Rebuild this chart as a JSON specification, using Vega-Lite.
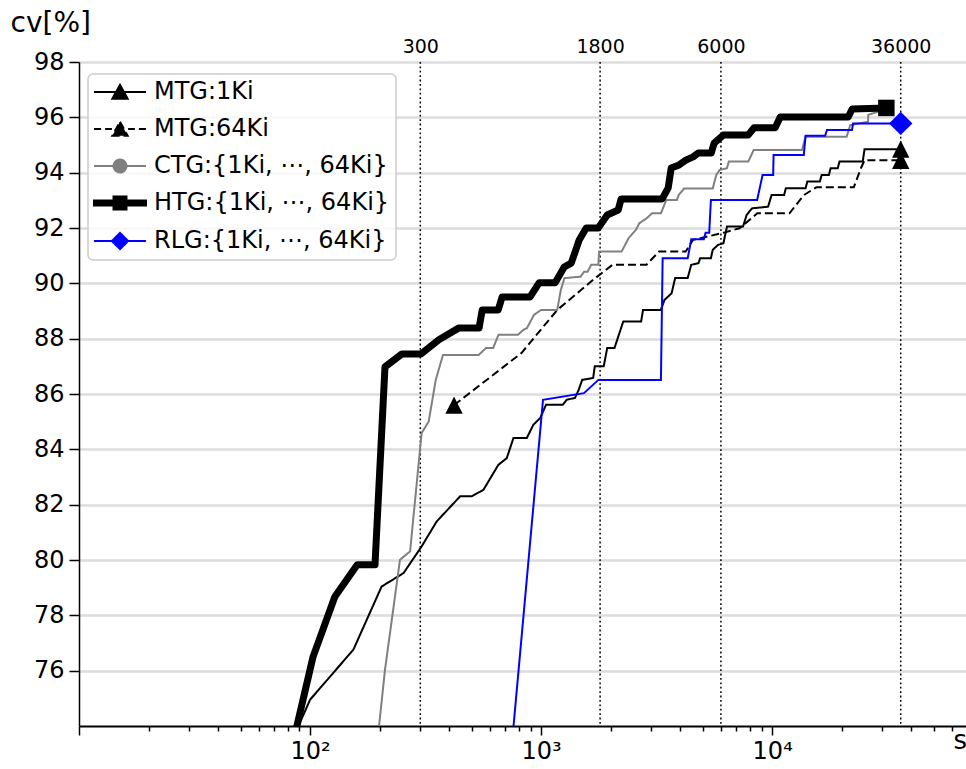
{
  "$schema": "https://vega.github.io/schema/vega-lite/v6.json",
  "width": 887,
  "height": 664,
  "autosize": {"type": "none"},
  "padding": {"left": 79, "top": 62, "right": 0, "bottom": 43},
  "background": "white",
  "config": {
    "view": {"stroke": null},
    "font": "DejaVu Sans",
    "axis": {"labelFont": "DejaVu Sans", "titleFont": "DejaVu Sans", "labelColor": "#000000", "titleColor": "#000000", "titleFontWeight": "normal"},
    "legend": {"labelFont": "DejaVu Sans"}
  },
  "datasets": {
    "rules": [{"t": 300}, {"t": 1800}, {"t": 6000}, {"t": 36000}],
    "marks": [
      {"series": "MTG:1Ki", "t": 36000, "cv": 94.85},
      {"series": "MTG:64Ki", "t": 420, "cv": 85.6},
      {"series": "MTG:64Ki", "t": 36000, "cv": 94.45},
      {"series": "CTG:{1Ki, ⋯, 64Ki}", "t": 31200, "cv": 96.3},
      {"series": "HTG:{1Ki, ⋯, 64Ki}", "t": 31200, "cv": 96.34},
      {"series": "RLG:{1Ki, ⋯, 64Ki}", "t": 36000, "cv": 95.78}
    ],
    "lines": [
      {"series": "MTG:1Ki", "t": 87, "cv": 73.8},
      {"series": "MTG:1Ki", "t": 100, "cv": 74.95},
      {"series": "MTG:1Ki", "t": 154, "cv": 76.76},
      {"series": "MTG:1Ki", "t": 204, "cv": 79.04},
      {"series": "MTG:1Ki", "t": 254, "cv": 79.53},
      {"series": "MTG:1Ki", "t": 304, "cv": 80.49},
      {"series": "MTG:1Ki", "t": 353, "cv": 81.39},
      {"series": "MTG:1Ki", "t": 446, "cv": 82.3},
      {"series": "MTG:1Ki", "t": 501, "cv": 82.3},
      {"series": "MTG:1Ki", "t": 563, "cv": 82.54},
      {"series": "MTG:1Ki", "t": 653, "cv": 83.44},
      {"series": "MTG:1Ki", "t": 710, "cv": 83.68},
      {"series": "MTG:1Ki", "t": 759, "cv": 84.41},
      {"series": "MTG:1Ki", "t": 867, "cv": 84.41},
      {"series": "MTG:1Ki", "t": 926, "cv": 84.89},
      {"series": "MTG:1Ki", "t": 991, "cv": 85.13},
      {"series": "MTG:1Ki", "t": 1050, "cv": 85.61},
      {"series": "MTG:1Ki", "t": 1240, "cv": 85.61},
      {"series": "MTG:1Ki", "t": 1290, "cv": 85.79},
      {"series": "MTG:1Ki", "t": 1402, "cv": 85.86},
      {"series": "MTG:1Ki", "t": 1454, "cv": 86.15},
      {"series": "MTG:1Ki", "t": 1506, "cv": 86.51},
      {"series": "MTG:1Ki", "t": 1680, "cv": 86.58},
      {"series": "MTG:1Ki", "t": 1707, "cv": 87.0},
      {"series": "MTG:1Ki", "t": 1866, "cv": 87.0},
      {"series": "MTG:1Ki", "t": 1932, "cv": 87.66},
      {"series": "MTG:1Ki", "t": 2077, "cv": 87.66},
      {"series": "MTG:1Ki", "t": 2267, "cv": 88.62},
      {"series": "MTG:1Ki", "t": 2709, "cv": 88.62},
      {"series": "MTG:1Ki", "t": 2761, "cv": 89.04},
      {"series": "MTG:1Ki", "t": 3297, "cv": 89.04},
      {"series": "MTG:1Ki", "t": 3419, "cv": 89.4},
      {"series": "MTG:1Ki", "t": 3670, "cv": 89.64},
      {"series": "MTG:1Ki", "t": 3803, "cv": 90.19},
      {"series": "MTG:1Ki", "t": 4308, "cv": 90.19},
      {"series": "MTG:1Ki", "t": 4463, "cv": 90.67},
      {"series": "MTG:1Ki", "t": 4797, "cv": 90.73},
      {"series": "MTG:1Ki", "t": 4880, "cv": 90.91},
      {"series": "MTG:1Ki", "t": 5430, "cv": 90.91},
      {"series": "MTG:1Ki", "t": 5530, "cv": 91.21},
      {"series": "MTG:1Ki", "t": 5830, "cv": 91.39},
      {"series": "MTG:1Ki", "t": 6150, "cv": 91.45},
      {"series": "MTG:1Ki", "t": 6375, "cv": 92.05},
      {"series": "MTG:1Ki", "t": 7480, "cv": 92.05},
      {"series": "MTG:1Ki", "t": 7750, "cv": 92.47},
      {"series": "MTG:1Ki", "t": 8180, "cv": 92.71},
      {"series": "MTG:1Ki", "t": 9600, "cv": 92.77},
      {"series": "MTG:1Ki", "t": 9940, "cv": 93.19},
      {"series": "MTG:1Ki", "t": 11260, "cv": 93.19},
      {"series": "MTG:1Ki", "t": 11460, "cv": 93.44},
      {"series": "MTG:1Ki", "t": 13950, "cv": 93.44},
      {"series": "MTG:1Ki", "t": 14200, "cv": 93.68},
      {"series": "MTG:1Ki", "t": 16080, "cv": 93.68},
      {"series": "MTG:1Ki", "t": 16380, "cv": 93.92},
      {"series": "MTG:1Ki", "t": 17590, "cv": 93.92},
      {"series": "MTG:1Ki", "t": 17910, "cv": 94.16},
      {"series": "MTG:1Ki", "t": 19220, "cv": 94.16},
      {"series": "MTG:1Ki", "t": 19560, "cv": 94.4},
      {"series": "MTG:1Ki", "t": 24660, "cv": 94.4},
      {"series": "MTG:1Ki", "t": 25100, "cv": 94.85},
      {"series": "MTG:1Ki", "t": 36000, "cv": 94.85},
      {"series": "MTG:64Ki", "t": 420, "cv": 85.6},
      {"series": "MTG:64Ki", "t": 822, "cv": 87.48},
      {"series": "MTG:64Ki", "t": 1175, "cv": 89.04},
      {"series": "MTG:64Ki", "t": 1675, "cv": 90.12},
      {"series": "MTG:64Ki", "t": 2037, "cv": 90.67},
      {"series": "MTG:64Ki", "t": 2858, "cv": 90.67},
      {"series": "MTG:64Ki", "t": 3238, "cv": 91.15},
      {"series": "MTG:64Ki", "t": 4226, "cv": 91.15},
      {"series": "MTG:64Ki", "t": 4540, "cv": 91.57},
      {"series": "MTG:64Ki", "t": 6040, "cv": 91.81},
      {"series": "MTG:64Ki", "t": 7220, "cv": 91.99},
      {"series": "MTG:64Ki", "t": 8620, "cv": 92.53},
      {"series": "MTG:64Ki", "t": 11880, "cv": 92.53},
      {"series": "MTG:64Ki", "t": 13710, "cv": 93.19},
      {"series": "MTG:64Ki", "t": 15530, "cv": 93.47},
      {"series": "MTG:64Ki", "t": 22550, "cv": 93.47},
      {"series": "MTG:64Ki", "t": 24210, "cv": 94.16},
      {"series": "MTG:64Ki", "t": 25100, "cv": 94.45},
      {"series": "MTG:64Ki", "t": 36000, "cv": 94.45},
      {"series": "CTG:{1Ki, ⋯, 64Ki}", "t": 196, "cv": 73.5},
      {"series": "CTG:{1Ki, ⋯, 64Ki}", "t": 211, "cv": 76.03},
      {"series": "CTG:{1Ki, ⋯, 64Ki}", "t": 245, "cv": 80.01},
      {"series": "CTG:{1Ki, ⋯, 64Ki}", "t": 271, "cv": 80.31},
      {"series": "CTG:{1Ki, ⋯, 64Ki}", "t": 304, "cv": 84.59},
      {"series": "CTG:{1Ki, ⋯, 64Ki}", "t": 326, "cv": 85.0},
      {"series": "CTG:{1Ki, ⋯, 64Ki}", "t": 350, "cv": 86.51},
      {"series": "CTG:{1Ki, ⋯, 64Ki}", "t": 376, "cv": 87.41},
      {"series": "CTG:{1Ki, ⋯, 64Ki}", "t": 537, "cv": 87.41},
      {"series": "CTG:{1Ki, ⋯, 64Ki}", "t": 577, "cv": 87.66},
      {"series": "CTG:{1Ki, ⋯, 64Ki}", "t": 620, "cv": 87.66},
      {"series": "CTG:{1Ki, ⋯, 64Ki}", "t": 654, "cv": 88.14},
      {"series": "CTG:{1Ki, ⋯, 64Ki}", "t": 794, "cv": 88.14},
      {"series": "CTG:{1Ki, ⋯, 64Ki}", "t": 838, "cv": 88.32},
      {"series": "CTG:{1Ki, ⋯, 64Ki}", "t": 868, "cv": 88.38},
      {"series": "CTG:{1Ki, ⋯, 64Ki}", "t": 931, "cv": 88.86},
      {"series": "CTG:{1Ki, ⋯, 64Ki}", "t": 1000, "cv": 89.04},
      {"series": "CTG:{1Ki, ⋯, 64Ki}", "t": 1174, "cv": 89.04},
      {"series": "CTG:{1Ki, ⋯, 64Ki}", "t": 1217, "cv": 89.76},
      {"series": "CTG:{1Ki, ⋯, 64Ki}", "t": 1262, "cv": 90.19},
      {"series": "CTG:{1Ki, ⋯, 64Ki}", "t": 1482, "cv": 90.24},
      {"series": "CTG:{1Ki, ⋯, 64Ki}", "t": 1535, "cv": 90.42},
      {"series": "CTG:{1Ki, ⋯, 64Ki}", "t": 1590, "cv": 90.42},
      {"series": "CTG:{1Ki, ⋯, 64Ki}", "t": 1647, "cv": 90.67},
      {"series": "CTG:{1Ki, ⋯, 64Ki}", "t": 1769, "cv": 90.67},
      {"series": "CTG:{1Ki, ⋯, 64Ki}", "t": 1782, "cv": 91.15},
      {"series": "CTG:{1Ki, ⋯, 64Ki}", "t": 2229, "cv": 91.15},
      {"series": "CTG:{1Ki, ⋯, 64Ki}", "t": 2310, "cv": 91.39},
      {"series": "CTG:{1Ki, ⋯, 64Ki}", "t": 2390, "cv": 91.63},
      {"series": "CTG:{1Ki, ⋯, 64Ki}", "t": 2570, "cv": 91.93},
      {"series": "CTG:{1Ki, ⋯, 64Ki}", "t": 2660, "cv": 92.17},
      {"series": "CTG:{1Ki, ⋯, 64Ki}", "t": 2860, "cv": 92.35},
      {"series": "CTG:{1Ki, ⋯, 64Ki}", "t": 3020, "cv": 92.53},
      {"series": "CTG:{1Ki, ⋯, 64Ki}", "t": 3300, "cv": 92.53},
      {"series": "CTG:{1Ki, ⋯, 64Ki}", "t": 3480, "cv": 93.01},
      {"series": "CTG:{1Ki, ⋯, 64Ki}", "t": 3870, "cv": 93.01},
      {"series": "CTG:{1Ki, ⋯, 64Ki}", "t": 3940, "cv": 93.19},
      {"series": "CTG:{1Ki, ⋯, 64Ki}", "t": 4155, "cv": 93.43},
      {"series": "CTG:{1Ki, ⋯, 64Ki}", "t": 5530, "cv": 93.43},
      {"series": "CTG:{1Ki, ⋯, 64Ki}", "t": 5730, "cv": 93.92},
      {"series": "CTG:{1Ki, ⋯, 64Ki}", "t": 5930, "cv": 94.1},
      {"series": "CTG:{1Ki, ⋯, 64Ki}", "t": 6370, "cv": 94.16},
      {"series": "CTG:{1Ki, ⋯, 64Ki}", "t": 6490, "cv": 94.4},
      {"series": "CTG:{1Ki, ⋯, 64Ki}", "t": 7880, "cv": 94.4},
      {"series": "CTG:{1Ki, ⋯, 64Ki}", "t": 8320, "cv": 94.82},
      {"series": "CTG:{1Ki, ⋯, 64Ki}", "t": 13460, "cv": 94.82},
      {"series": "CTG:{1Ki, ⋯, 64Ki}", "t": 13950, "cv": 95.3},
      {"series": "CTG:{1Ki, ⋯, 64Ki}", "t": 21000, "cv": 95.3},
      {"series": "CTG:{1Ki, ⋯, 64Ki}", "t": 21770, "cv": 95.72},
      {"series": "CTG:{1Ki, ⋯, 64Ki}", "t": 26000, "cv": 95.84},
      {"series": "CTG:{1Ki, ⋯, 64Ki}", "t": 26050, "cv": 96.09},
      {"series": "CTG:{1Ki, ⋯, 64Ki}", "t": 31200, "cv": 96.3},
      {"series": "HTG:{1Ki, ⋯, 64Ki}", "t": 84.4, "cv": 73.4},
      {"series": "HTG:{1Ki, ⋯, 64Ki}", "t": 103, "cv": 76.5},
      {"series": "HTG:{1Ki, ⋯, 64Ki}", "t": 128, "cv": 78.67},
      {"series": "HTG:{1Ki, ⋯, 64Ki}", "t": 160, "cv": 79.83},
      {"series": "HTG:{1Ki, ⋯, 64Ki}", "t": 191, "cv": 79.83},
      {"series": "HTG:{1Ki, ⋯, 64Ki}", "t": 211, "cv": 86.98},
      {"series": "HTG:{1Ki, ⋯, 64Ki}", "t": 250, "cv": 87.45},
      {"series": "HTG:{1Ki, ⋯, 64Ki}", "t": 302, "cv": 87.45},
      {"series": "HTG:{1Ki, ⋯, 64Ki}", "t": 361, "cv": 87.96},
      {"series": "HTG:{1Ki, ⋯, 64Ki}", "t": 441, "cv": 88.39},
      {"series": "HTG:{1Ki, ⋯, 64Ki}", "t": 539, "cv": 88.39},
      {"series": "HTG:{1Ki, ⋯, 64Ki}", "t": 556, "cv": 89.04},
      {"series": "HTG:{1Ki, ⋯, 64Ki}", "t": 652, "cv": 89.04},
      {"series": "HTG:{1Ki, ⋯, 64Ki}", "t": 678, "cv": 89.51},
      {"series": "HTG:{1Ki, ⋯, 64Ki}", "t": 896, "cv": 89.51},
      {"series": "HTG:{1Ki, ⋯, 64Ki}", "t": 980, "cv": 90.02},
      {"series": "HTG:{1Ki, ⋯, 64Ki}", "t": 1150, "cv": 90.02},
      {"series": "HTG:{1Ki, ⋯, 64Ki}", "t": 1259, "cv": 90.59},
      {"series": "HTG:{1Ki, ⋯, 64Ki}", "t": 1350, "cv": 90.73},
      {"series": "HTG:{1Ki, ⋯, 64Ki}", "t": 1462, "cv": 91.57},
      {"series": "HTG:{1Ki, ⋯, 64Ki}", "t": 1567, "cv": 92.0},
      {"series": "HTG:{1Ki, ⋯, 64Ki}", "t": 1767, "cv": 92.0},
      {"series": "HTG:{1Ki, ⋯, 64Ki}", "t": 1933, "cv": 92.47},
      {"series": "HTG:{1Ki, ⋯, 64Ki}", "t": 2155, "cv": 92.65},
      {"series": "HTG:{1Ki, ⋯, 64Ki}", "t": 2220, "cv": 93.05},
      {"series": "HTG:{1Ki, ⋯, 64Ki}", "t": 3340, "cv": 93.05},
      {"series": "HTG:{1Ki, ⋯, 64Ki}", "t": 3548, "cv": 93.45},
      {"series": "HTG:{1Ki, ⋯, 64Ki}", "t": 3656, "cv": 94.17},
      {"series": "HTG:{1Ki, ⋯, 64Ki}", "t": 3956, "cv": 94.28},
      {"series": "HTG:{1Ki, ⋯, 64Ki}", "t": 4245, "cv": 94.46},
      {"series": "HTG:{1Ki, ⋯, 64Ki}", "t": 4550, "cv": 94.57},
      {"series": "HTG:{1Ki, ⋯, 64Ki}", "t": 4786, "cv": 94.71},
      {"series": "HTG:{1Ki, ⋯, 64Ki}", "t": 5450, "cv": 94.71},
      {"series": "HTG:{1Ki, ⋯, 64Ki}", "t": 5610, "cv": 95.07},
      {"series": "HTG:{1Ki, ⋯, 64Ki}", "t": 6140, "cv": 95.36},
      {"series": "HTG:{1Ki, ⋯, 64Ki}", "t": 7870, "cv": 95.36},
      {"series": "HTG:{1Ki, ⋯, 64Ki}", "t": 8350, "cv": 95.62},
      {"series": "HTG:{1Ki, ⋯, 64Ki}", "t": 10300, "cv": 95.62},
      {"series": "HTG:{1Ki, ⋯, 64Ki}", "t": 10840, "cv": 96.01},
      {"series": "HTG:{1Ki, ⋯, 64Ki}", "t": 21340, "cv": 96.01},
      {"series": "HTG:{1Ki, ⋯, 64Ki}", "t": 22200, "cv": 96.3},
      {"series": "HTG:{1Ki, ⋯, 64Ki}", "t": 31200, "cv": 96.34},
      {"series": "RLG:{1Ki, ⋯, 64Ki}", "t": 741, "cv": 73.0},
      {"series": "RLG:{1Ki, ⋯, 64Ki}", "t": 1019, "cv": 85.79},
      {"series": "RLG:{1Ki, ⋯, 64Ki}", "t": 1533, "cv": 86.03},
      {"series": "RLG:{1Ki, ⋯, 64Ki}", "t": 1769, "cv": 86.51},
      {"series": "RLG:{1Ki, ⋯, 64Ki}", "t": 3300, "cv": 86.51},
      {"series": "RLG:{1Ki, ⋯, 64Ki}", "t": 3357, "cv": 90.91},
      {"series": "RLG:{1Ki, ⋯, 64Ki}", "t": 4310, "cv": 90.91},
      {"series": "RLG:{1Ki, ⋯, 64Ki}", "t": 4465, "cv": 91.59},
      {"series": "RLG:{1Ki, ⋯, 64Ki}", "t": 5060, "cv": 91.59},
      {"series": "RLG:{1Ki, ⋯, 64Ki}", "t": 5150, "cv": 91.83},
      {"series": "RLG:{1Ki, ⋯, 64Ki}", "t": 5340, "cv": 91.83},
      {"series": "RLG:{1Ki, ⋯, 64Ki}", "t": 5430, "cv": 93.01},
      {"series": "RLG:{1Ki, ⋯, 64Ki}", "t": 8610, "cv": 93.01},
      {"series": "RLG:{1Ki, ⋯, 64Ki}", "t": 9090, "cv": 93.92},
      {"series": "RLG:{1Ki, ⋯, 64Ki}", "t": 10100, "cv": 93.92},
      {"series": "RLG:{1Ki, ⋯, 64Ki}", "t": 10140, "cv": 94.64},
      {"series": "RLG:{1Ki, ⋯, 64Ki}", "t": 13700, "cv": 94.64},
      {"series": "RLG:{1Ki, ⋯, 64Ki}", "t": 13950, "cv": 95.33},
      {"series": "RLG:{1Ki, ⋯, 64Ki}", "t": 16950, "cv": 95.33},
      {"series": "RLG:{1Ki, ⋯, 64Ki}", "t": 17260, "cv": 95.54},
      {"series": "RLG:{1Ki, ⋯, 64Ki}", "t": 22150, "cv": 95.54},
      {"series": "RLG:{1Ki, ⋯, 64Ki}", "t": 22390, "cv": 95.78},
      {"series": "RLG:{1Ki, ⋯, 64Ki}", "t": 36000, "cv": 95.78}
    ]
  },
  "layer": [
    {
      "data": {"name": "rules"},
      "mark": {"type": "rule", "color": "#000000", "strokeWidth": 1.5, "strokeDash": [1.8, 2.6]},
      "encoding": {
        "x": {
          "field": "t", "type": "quantitative",
          "scale": {"type": "log", "domain": [10, 69000], "nice": false},
          "axis": {"orient": "top", "values": [300, 1800, 6000, 36000], "format": "d", "title": null, "domain": false, "ticks": false, "tickSize": 0, "grid": false, "labelFontSize": 19, "labelPadding": 6, "labelOverlap": false, "labelFlush": false, "labelBound": false}
        }
      }
    },
    {
      "data": {"name": "lines"},
      "transform": [{"filter": {"field": "series", "oneOf": ["MTG:1Ki", "MTG:64Ki", "CTG:{1Ki, ⋯, 64Ki}"]}}],
      "mark": {"type": "line", "clip": true, "strokeWidth": 2},
      "encoding": {
        "x": {
          "field": "t", "type": "quantitative",
          "scale": {"type": "log", "domain": [10, 69000], "nice": false},
          "axis": {
            "orient": "bottom",
            "values": [10, 20, 30, 40, 50, 60, 70, 80, 90, 100, 200, 300, 400, 500, 600, 700, 800, 900, 1000, 2000, 3000, 4000, 5000, 6000, 7000, 8000, 9000, 10000, 20000, 30000, 40000, 50000, 60000],
            "labelExpr": "datum.value == 100 ? '10²' : datum.value == 1000 ? '10³' : datum.value == 10000 ? '10⁴' : ''",
            "labelOverlap": false, "labelFlush": false, "labelBound": false,
            "labelFontSize": 24, "labelPadding": 4,
            "tickSize": {"condition": {"test": "datum.value == 10 || datum.value == 100 || datum.value == 1000 || datum.value == 10000", "value": 9}, "value": 5},
            "tickColor": "#000000", "tickWidth": 1.5,
            "domainColor": "#000000", "domainWidth": 2,
            "grid": false,
            "title": "s", "titleFontSize": 26, "titleAlign": "left", "titleBaseline": "alphabetic", "titleAngle": 0, "titleX": 874, "titleY": 22
          }
        },
        "y": {
          "field": "cv", "type": "quantitative",
          "scale": {"domain": [74, 98], "nice": false, "zero": false},
          "axis": {
            "values": [76, 78, 80, 82, 84, 86, 88, 90, 92, 94, 96, 98],
            "title": "cv[%]", "titleFontSize": 28, "titleAngle": 0, "titleAlign": "left", "titleBaseline": "alphabetic", "titleX": -69, "titleY": -31,
            "labelFontSize": 24, "labelPadding": 5,
            "tickSize": 10, "tickWidth": 1.5, "tickColor": "#000000",
            "domainColor": "#000000", "domainWidth": 1.5,
            "grid": true, "gridColor": "#dcdcdc", "gridWidth": 2.5
          }
        },
        "color": {
          "field": "series", "type": "nominal",
          "scale": {"domain": ["MTG:1Ki", "MTG:64Ki", "CTG:{1Ki, ⋯, 64Ki}", "HTG:{1Ki, ⋯, 64Ki}", "RLG:{1Ki, ⋯, 64Ki}"], "range": ["#000000", "#000000", "#808080", "#000000", "#0000ff"]},
          "legend": {
            "title": null, "orient": "none", "legendX": 9, "legendY": 12, "direction": "vertical",
            "padding": 6, "rowPadding": 13, "strokeColor": "#cccccc", "cornerRadius": 5, "fillColor": "rgba(255,255,255,0.8)",
            "labelFontSize": 24, "labelColor": "#000000", "labelLimit": 500, "labelFont": "DejaVu Sans",
            "symbolSize": 324, "symbolOffset": 14, "labelOffset": 22,
            "encode": {
              "legend": {"update": {"strokeWidth": {"value": 1.5}}},
              "symbols": {
                "update": {
                  "shape": {"signal": "datum.value === 'MTG:1Ki' ? 'M-2.89,0H2.89M0,-0.8L0.85,0.75L-0.85,0.75Z' : datum.value === 'MTG:64Ki' ? 'M-2.89,0H-2.1M-1.65,0H-0.9M0.9,0H1.65M2.1,0H2.89M0,-0.8L0.85,0.75L-0.85,0.75Z' : indexof(datum.value, 'CTG') === 0 ? 'M-2.89,0H2.89M-0.72,0A0.72,0.72,0,1,0,0.72,0A0.72,0.72,0,1,0,-0.72,0Z' : indexof(datum.value, 'HTG') === 0 ? 'M-2.89,-0.28H2.89V0.28H-2.89ZM-0.72,-0.72H0.72V0.72H-0.72Z' : 'M-2.89,0H2.89M0,-0.9L0.9,0L0,0.9L-0.9,0Z'"},
                  "fill": {"signal": "indexof(datum.value, 'CTG') === 0 ? '#808080' : indexof(datum.value, 'RLG') === 0 ? '#0000ff' : '#000000'"},
                  "stroke": {"signal": "indexof(datum.value, 'CTG') === 0 ? '#808080' : indexof(datum.value, 'RLG') === 0 ? '#0000ff' : '#000000'"},
                  "strokeWidth": {"value": 2},
                  "strokeDash": {"value": [1, 0]},
                  "size": {"value": 324},
                  "opacity": {"value": 1},
                  "fillOpacity": {"value": 1},
                  "strokeOpacity": {"value": 1}
                }
              }
            }
          }
        },
        "strokeDash": {
          "field": "series", "type": "nominal",
          "scale": {"domain": ["MTG:1Ki", "MTG:64Ki", "CTG:{1Ki, ⋯, 64Ki}", "HTG:{1Ki, ⋯, 64Ki}", "RLG:{1Ki, ⋯, 64Ki}"], "range": [[1, 0], [8, 4], [1, 0], [1, 0], [1, 0]]},
          "legend": null
        }
      }
    },
    {
      "data": {"name": "lines"},
      "transform": [{"filter": {"field": "series", "equal": "HTG:{1Ki, ⋯, 64Ki}"}}],
      "mark": {"type": "line", "clip": true, "strokeWidth": 7, "strokeJoin": "round"},
      "encoding": {
        "x": {"field": "t", "type": "quantitative", "scale": {"type": "log", "domain": [10, 69000], "nice": false}, "axis": null},
        "y": {"field": "cv", "type": "quantitative"},
        "color": {"field": "series", "type": "nominal"}
      }
    },
    {
      "data": {"name": "lines"},
      "transform": [{"filter": {"field": "series", "equal": "RLG:{1Ki, ⋯, 64Ki}"}}],
      "mark": {"type": "line", "clip": true, "strokeWidth": 2},
      "encoding": {
        "x": {"field": "t", "type": "quantitative", "scale": {"type": "log", "domain": [10, 69000], "nice": false}, "axis": null},
        "y": {"field": "cv", "type": "quantitative"},
        "color": {"field": "series", "type": "nominal"}
      }
    },
    {
      "data": {"name": "marks"},
      "transform": [{"filter": {"field": "series", "oneOf": ["MTG:1Ki", "MTG:64Ki"]}}],
      "mark": {"type": "point", "filled": true, "size": 300, "opacity": 1, "color": "#000000", "shape": "M0,-1L1,1L-1,1Z"},
      "encoding": {
        "x": {"field": "t", "type": "quantitative", "scale": {"type": "log", "domain": [10, 69000], "nice": false}, "axis": null},
        "y": {"field": "cv", "type": "quantitative"}
      }
    },
    {
      "data": {"name": "marks"},
      "transform": [{"filter": {"field": "series", "equal": "CTG:{1Ki, ⋯, 64Ki}"}}],
      "mark": {"type": "point", "filled": true, "size": 200, "opacity": 1, "color": "#808080", "shape": "circle"},
      "encoding": {
        "x": {"field": "t", "type": "quantitative", "scale": {"type": "log", "domain": [10, 69000], "nice": false}, "axis": null},
        "y": {"field": "cv", "type": "quantitative"}
      }
    },
    {
      "data": {"name": "marks"},
      "transform": [{"filter": {"field": "series", "equal": "HTG:{1Ki, ⋯, 64Ki}"}}],
      "mark": {"type": "point", "filled": true, "size": 300, "opacity": 1, "color": "#000000", "shape": "M-0.95,-0.95H0.95V0.95H-0.95Z"},
      "encoding": {
        "x": {"field": "t", "type": "quantitative", "scale": {"type": "log", "domain": [10, 69000], "nice": false}, "axis": null},
        "y": {"field": "cv", "type": "quantitative"}
      }
    },
    {
      "data": {"name": "marks"},
      "transform": [{"filter": {"field": "series", "equal": "RLG:{1Ki, ⋯, 64Ki}"}}],
      "mark": {"type": "point", "filled": true, "size": 300, "opacity": 1, "color": "#0000ff", "shape": "M0,-1.35L1.35,0L0,1.35L-1.35,0Z"},
      "encoding": {
        "x": {"field": "t", "type": "quantitative", "scale": {"type": "log", "domain": [10, 69000], "nice": false}, "axis": null},
        "y": {"field": "cv", "type": "quantitative"}
      }
    }
  ],
  "resolve": {"axis": {"x": "independent"}}
}
